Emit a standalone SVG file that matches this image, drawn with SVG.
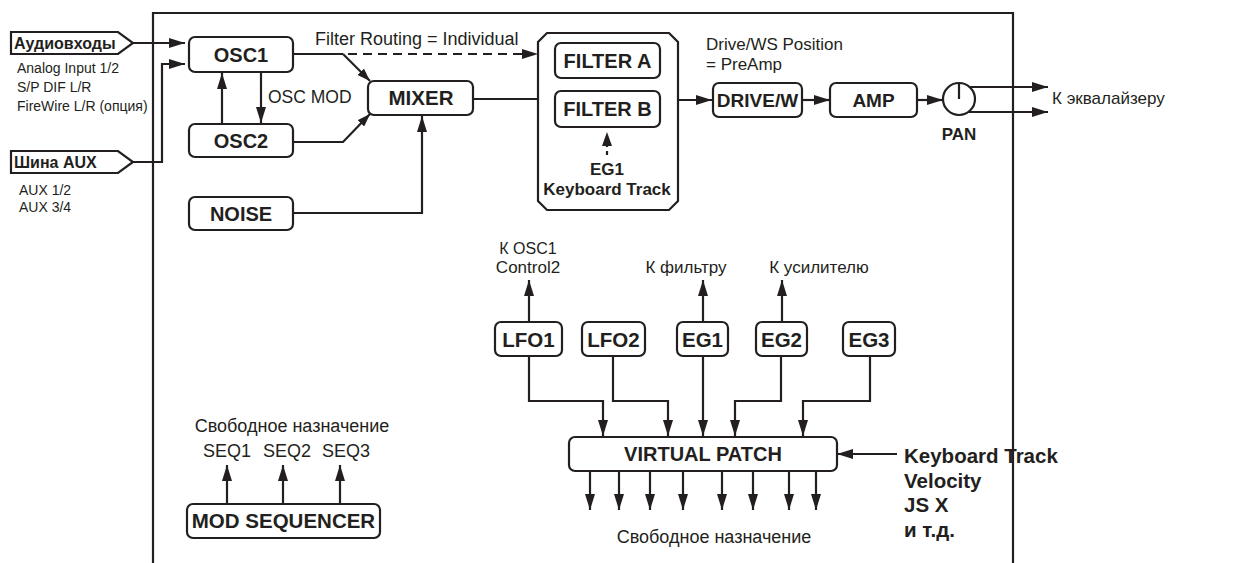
<svg xmlns="http://www.w3.org/2000/svg" width="1259" height="563" viewBox="0 0 1259 563">
<style>
text{font-family:"Liberation Sans",Arial,sans-serif;fill:#231f20}
.b{font-weight:bold}
.box{fill:#fff;stroke:#231f20;stroke-width:2.2}
.ln{fill:none;stroke:#231f20;stroke-width:2.2}
.ar{marker-end:url(#ah)}
.dash{stroke-dasharray:9 6}
.c{text-anchor:middle}
</style>
<defs>
<marker id="ah" markerUnits="userSpaceOnUse" markerWidth="17" markerHeight="10" refX="16" refY="5" orient="auto"><path d="M0,0 L16,5 L0,10 Z" fill="#231f20"/></marker>
<marker id="ahs" markerUnits="userSpaceOnUse" markerWidth="14" markerHeight="9" refX="13" refY="4.5" orient="auto"><path d="M0,0 L13,4.5 L0,9 Z" fill="#231f20"/></marker>
</defs>
<rect width="1259" height="563" fill="#fff"/>
<g id="frame"><path class="ln" d="M153,563 V13 H1013 V563" stroke-width="2.6"/></g>

<g id="connectors">
<path class="ln ar" d="M133,43 H185"/>
<path class="ln ar" d="M133,162 H162 V64 H185"/>
<path class="ln ar" d="M222,124 V73"/>
<path class="ln ar" d="M261,72 V123"/>
<path class="ln" d="M293,54 H343"/>
<path class="ln" style="marker-end:url(#ahs)" d="M343,54 L370,81"/>
<path class="ln dash" d="M348,54 H525"/>
<path d="M522,49 L538,54 L522,59 Z" fill="#231f20"/>
<path class="ln" style="marker-end:url(#ahs)" d="M292,142 H343 L370,114"/>
<path class="ln ar" d="M292,213 H422 V116"/>
<path class="ln" d="M473,99 H545"/>
<path class="ln ar" d="M672,100 H712"/>
<path class="ln ar" d="M802,100 H830"/>
<path class="ln ar" d="M917,100 H943"/>
<path class="ln ar" d="M970,87 H1048"/>
<path class="ln ar" d="M968,112 H1048"/>
<path class="ln ar" d="M529,322 V280"/>
<path class="ln ar" d="M703,322 V280"/>
<path class="ln ar" d="M782,322 V280"/>
<path class="ln ar" d="M529,356 V401 H603 V436"/>
<path class="ln ar" d="M613,356 V401 H668 V436"/>
<path class="ln ar" d="M703,356 V436"/>
<path class="ln ar" d="M781,356 V401 H735 V436"/>
<path class="ln ar" d="M870,356 V401 H803 V436"/>
<path class="ln ar" d="M590,471 V510"/>
<path class="ln ar" d="M619,471 V510"/>
<path class="ln ar" d="M650,471 V510"/>
<path class="ln ar" d="M683,471 V510"/>
<path class="ln ar" d="M722,471 V510"/>
<path class="ln ar" d="M753,471 V510"/>
<path class="ln ar" d="M789,471 V510"/>
<path class="ln ar" d="M816,471 V510"/>
<path class="ln ar" d="M897,454 H837"/>
<path class="ln ar" d="M227,504 V465"/>
<path class="ln ar" d="M283,504 V465"/>
<path class="ln ar" d="M340,504 V465"/>
</g>

<g id="audio-in">
<path class="box" d="M11,32 H118 L133,43 L118,54 H11 Z"/>
<text class="b" x="14" y="49" font-size="16">Аудиовходы</text>
<text x="17" y="73" font-size="14">Analog Input 1/2</text>
<text x="17" y="92" font-size="14">S/P DIF L/R</text>
<text x="17" y="111" font-size="14">FireWire L/R (опция)</text>
</g>
<g id="aux-bus">
<path class="box" d="M11,151 H118 L133,162 L118,173 H11 Z"/>
<text class="b" x="14" y="168" font-size="16">Шина AUX</text>
<text x="19" y="195" font-size="14">AUX 1/2</text>
<text x="19" y="212" font-size="14">AUX 3/4</text>
</g>

<g id="osc1"><rect class="box" x="189" y="37" width="104" height="35" rx="6"/><text class="b c" x="241" y="62" font-size="20">OSC1</text></g>
<g id="osc2"><rect class="box" x="189" y="124" width="104" height="33" rx="6"/><text class="b c" x="241" y="148" font-size="20">OSC2</text></g>
<g id="noise"><rect class="box" x="189" y="197" width="104" height="33" rx="6"/><text class="b c" x="241" y="221" font-size="20">NOISE</text></g>
<g id="oscmod-label"><text x="268" y="103" font-size="17.5">OSC MOD</text></g>
<g id="routing-label"><text x="315" y="45" font-size="18">Filter Routing = Individual</text></g>
<g id="mixer"><rect class="box" x="368" y="81" width="105" height="34" rx="6"/><text class="b c" x="421" y="105" font-size="20.5">MIXER</text></g>

<g id="filter-group">
<path class="box" d="M547,33 H669 L678,42 V201 L669,210 H547 L538,201 V42 Z"/>
<rect class="box" x="555" y="43" width="105" height="35" rx="6"/>
<text class="b c" x="607.5" y="68" font-size="20">FILTER A</text>
<rect class="box" x="555" y="91" width="105" height="36" rx="6"/>
<text class="b c" x="607.5" y="116" font-size="20">FILTER B</text>
<path class="ln" d="M607,155 V144" stroke-dasharray="4 4"/>
<path d="M602,146 L607,132 L612,146 Z" fill="#231f20"/>
<text class="b c" x="607" y="175" font-size="17">EG1</text>
<text class="b c" x="607" y="195" font-size="17">Keyboard Track</text>
</g>

<g id="drive-label"><text x="706" y="50" font-size="17">Drive/WS Position</text><text x="706" y="70" font-size="17">= PreAmp</text></g>
<g id="drive"><rect class="box" x="713" y="83" width="89" height="34" rx="6"/><text class="b c" x="757.5" y="107" font-size="19">DRIVE/W</text></g>
<g id="amp"><rect class="box" x="830" y="83" width="87" height="34" rx="6"/><text class="b c" x="873.5" y="107" font-size="19">AMP</text></g>
<g id="pan"><circle class="box" cx="959" cy="99" r="16"/><path class="ln" d="M959,83 V99"/><text class="b c" x="959" y="140" font-size="17">PAN</text></g>
<g id="eq-label"><text x="1052" y="104" font-size="17">К эквалайзеру</text></g>

<g id="lfo1"><rect class="box" x="495" y="322" width="67" height="34" rx="6"/><text class="b c" x="528.5" y="346.5" font-size="20.5">LFO1</text></g>
<g id="lfo2"><rect class="box" x="582" y="322" width="63" height="34" rx="6"/><text class="b c" x="613.5" y="346.5" font-size="20.5">LFO2</text></g>
<g id="eg1"><rect class="box" x="677" y="322" width="51" height="34" rx="6"/><text class="b c" x="702.5" y="346.5" font-size="20.5">EG1</text></g>
<g id="eg2"><rect class="box" x="756" y="322" width="51" height="34" rx="6"/><text class="b c" x="781.5" y="346.5" font-size="20.5">EG2</text></g>
<g id="eg3"><rect class="box" x="843" y="322" width="52" height="34" rx="6"/><text class="b c" x="869" y="346.5" font-size="20.5">EG3</text></g>
<g id="dest-labels">
<text class="c" x="528" y="254" font-size="16">К OSC1</text>
<text class="c" x="528" y="273" font-size="17">Control2</text>
<text class="c" x="686" y="273" font-size="17">К фильтру</text>
<text class="c" x="819" y="273" font-size="17">К усилителю</text>
</g>

<g id="virtual-patch"><rect class="box" x="569" y="437" width="268" height="34" rx="6"/><text class="b c" x="703" y="461" font-size="20">VIRTUAL PATCH</text></g>
<g id="vp-out-label"><text class="c" x="714" y="543" font-size="18">Свободное назначение</text></g>
<g id="vp-sources">
<text class="b" x="904" y="463" font-size="20.5">Keyboard Track</text>
<text class="b" x="904" y="488" font-size="20.5">Velocity</text>
<text class="b" x="904" y="512" font-size="20.5">JS X</text>
<text class="b" x="904" y="537" font-size="20.5">и т.д.</text>
</g>

<g id="mod-sequencer"><rect class="box" x="187" y="504" width="193" height="34" rx="6"/><text class="b c" x="283.5" y="528" font-size="20.5">MOD SEQUENCER</text></g>
<g id="seq-labels">
<text class="c" x="292" y="432" font-size="18">Свободное назначение</text>
<text class="c" x="227" y="457" font-size="18">SEQ1</text>
<text class="c" x="287" y="457" font-size="18">SEQ2</text>
<text class="c" x="346" y="457" font-size="18">SEQ3</text>
</g>
</svg>
